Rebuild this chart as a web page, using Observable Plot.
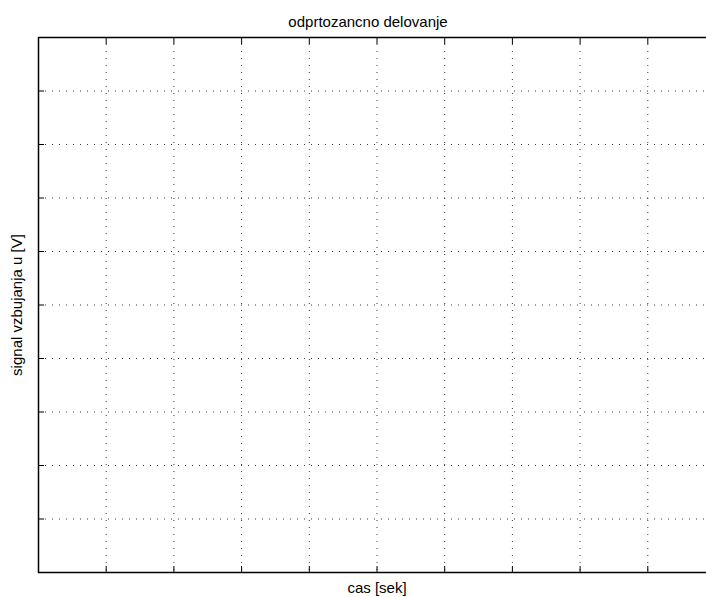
<!DOCTYPE html>
<html>
<head>
<meta charset="utf-8">
<script src="https://cdn.jsdelivr.net/npm/d3@7"></script>
<script src="https://cdn.jsdelivr.net/npm/@observablehq/plot@0.6"></script>
<style>
  html, body { margin: 0; padding: 0; background: #fff; overflow: hidden; }
  #chart svg { display: block; max-width: none !important; font-family: "Liberation Sans", Arial, sans-serif; }
</style>
</head>
<body>
<div id="chart"></div>
<script>
const titleText = "odprtozancno delovanje";
const xLabel = "cas [sek]";
const yLabel = "signal vzbujanja u [V]";
const xDomain = [0, 10];
const yDomain = [0, 10];
const xTicks = [1, 2, 3, 4, 5, 6, 7, 8, 9];
const yTicks = [1, 2, 3, 4, 5, 6, 7, 8, 9];

const W = 715, H = 597;
const chart = Plot.plot({
  width: W,
  height: H,
  marginLeft: 38,
  marginRight: 0,
  marginTop: 37,
  marginBottom: 25,
  style: {fontFamily: "'Liberation Sans', Arial, sans-serif", fontSize: "13px", color: "#000", background: "#fff", overflow: "visible", maxWidth: "none"},
  x: {domain: xDomain},
  y: {domain: yDomain},
  marks: [
    Plot.gridX(xTicks, {stroke: "#222", strokeOpacity: 0.9, strokeDasharray: "1,6"}),
    Plot.gridY(yTicks, {stroke: "#222", strokeOpacity: 0.9, strokeDasharray: "1,6"}),
    Plot.axisX(xTicks, {anchor: "bottom", tickSize: -6, tickFormat: () => "", label: null, stroke: "#000"}),
    Plot.axisX(xTicks, {anchor: "top", tickSize: -6, tickFormat: () => "", label: null, stroke: "#000"}),
    Plot.axisY(yTicks, {anchor: "left", tickSize: -6, tickFormat: () => "", label: null, stroke: "#000"}),
    Plot.frame({stroke: "#000", strokeWidth: 1.5}),
    Plot.text([titleText], {frameAnchor: "top", lineAnchor: "middle", dy: -15.5, dx: -9, fontSize: 15, fill: "#000"}),
    Plot.text([xLabel], {frameAnchor: "bottom", lineAnchor: "middle", dy: 16, fontSize: 15, fill: "#000"}),
    Plot.text([yLabel], {frameAnchor: "left", textAnchor: "middle", lineAnchor: "middle", dx: -21, rotate: -90, fontSize: 15, fill: "#000"})
  ]
});
document.getElementById("chart").appendChild(chart);
</script>
</body>
</html>
